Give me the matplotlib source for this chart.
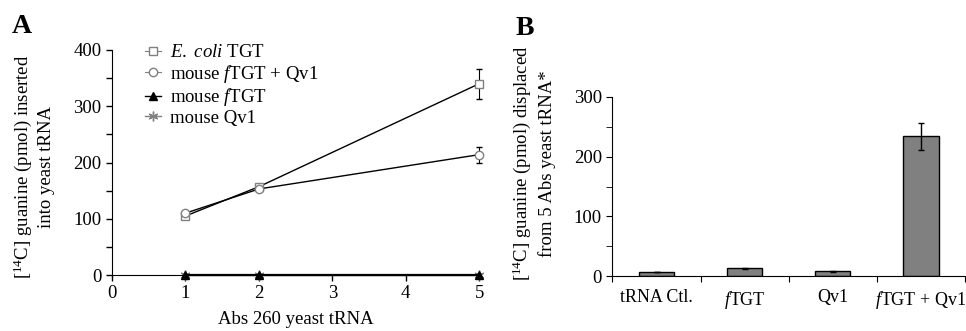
import matplotlib
matplotlib.use('Agg')
import matplotlib.pyplot as plt
from matplotlib.lines import Line2D
import numpy as np

plt.rcParams['font.family'] = ['Liberation Serif', 'DejaVu Serif']
plt.rcParams['mathtext.fontset'] = 'custom'
plt.rcParams['mathtext.rm'] = 'Liberation Serif'
plt.rcParams['mathtext.it'] = 'Liberation Serif:italic'
plt.rcParams['font.size'] = 13.5

# Panel A data
abs_x = [1, 2, 5]
ecoli = [105, 157, 340]
ecoli_err = [3, 3, 27]
ftgt_qv1 = [110, 153, 214]
ftgt_qv1_err = [3, 3, 14]
ftgt = [0, 0, 0]
qv1 = [0, 0, 0]

# Panel B data
bar_labels = ['tRNA Ctl.', '$\\it{f}$TGT', 'Qv1', '$\\it{f}$TGT + Qv1']
bar_vals = [7, 13, 8, 234]
bar_err = [0, 1, 1, 23]

fig = plt.figure(figsize=(9.66, 3.31), dpi=100)

# ---- panel A ----
ax = fig.add_axes([0.116, 0.169, 0.380, 0.680])
ax.plot(abs_x, ftgt, color='black', marker='^', ms=6, lw=1.6,
        clip_on=False, zorder=3)
ax.plot(abs_x, qv1, color='gray', marker=(6, 2, 0), ms=7, lw=1,
        clip_on=False, zorder=2)
ax.errorbar(abs_x, ecoli, yerr=ecoli_err, color='black', marker='s', ms=6,
            mfc='white', mec='gray', lw=1, elinewidth=0.8, capsize=2,
            clip_on=False, zorder=4)
ax.errorbar(abs_x, ftgt_qv1, yerr=ftgt_qv1_err, color='black', marker='o', ms=6,
            mfc='white', mec='gray', lw=1, elinewidth=0.8, capsize=2,
            clip_on=False, zorder=4)

ax.set_xlim(0, 5)
ax.set_ylim(0, 400)
ax.set_xticks(range(0, 6))
ax.set_yticks(range(0, 401, 100))
ax.set_yticks(range(50, 400, 100), minor=True)
ax.tick_params(direction='out', length=4, width=1)
ax.tick_params(which='minor', direction='out', length=4, width=1)
ax.spines['top'].set_visible(False)
ax.spines['right'].set_visible(False)
ax.set_xlabel('Abs 260 yeast tRNA', labelpad=6)
ax.set_ylabel('[$^{14}$C] guanine (pmol) inserted\ninto yeast tRNA', linespacing=1.35)
ax.yaxis.set_label_coords(-0.155, 0.48)

handles = [
    Line2D([], [], color='gray', lw=0.8, marker='s', ms=6, mfc='white', mec='gray'),
    Line2D([], [], color='gray', lw=0.8, marker='o', ms=6, mfc='white', mec='gray'),
    Line2D([], [], color='black', lw=1, marker='^', ms=6),
    Line2D([], [], color='gray', lw=1, marker=(6, 2, 0), ms=7),
]
labels = ['$\\it{E.}$ $\\it{coli}$ TGT', 'mouse $\\it{f}$TGT + Qv1',
          'mouse $\\it{f}$TGT', 'mouse Qv1']
ax.legend(handles, labels, loc='upper left',
          bbox_to_anchor=(0.068, 1.06), frameon=False, handlelength=0.9,
          handletextpad=0.45, labelspacing=0.08, borderaxespad=0)

# ---- panel B ----
bx = fig.add_axes([0.634, 0.166, 0.365, 0.541])
pos = np.arange(len(bar_vals))
bx.bar(pos, bar_vals, width=0.4, color='#808080', edgecolor='black', lw=1)
bx.errorbar(pos, bar_vals, yerr=bar_err, fmt='none', ecolor='black',
            elinewidth=1, capsize=2.5)
bx.set_xlim(-0.5, 3.5)
bx.set_ylim(0, 300)
bx.set_xticks(np.arange(-0.5, 3.6, 1.0))
bx.set_xticklabels([])
bx.set_xticks(pos, minor=True)
bx.set_xticklabels(bar_labels, minor=True, fontsize=13)
bx.tick_params(axis='x', which='minor', length=0, pad=9)
bx.tick_params(axis='x', which='major', direction='out', length=4)
bx.set_yticks(range(0, 301, 100))
bx.set_yticks(range(50, 300, 100), minor=True)
bx.tick_params(axis='y', which='both', direction='out', length=4)
bx.spines['top'].set_visible(False)
bx.spines['right'].set_visible(False)
bx.set_ylabel('[$^{14}$C] guanine (pmol) displaced\nfrom 5 Abs yeast tRNA*', linespacing=1.35)
bx.yaxis.set_label_coords(-0.16, 0.63)

fig.text(0.012, 0.90, 'A', fontsize=20, fontweight='bold')
fig.text(0.534, 0.895, 'B', fontsize=20, fontweight='bold')

fig.savefig('out.png', dpi=100)
